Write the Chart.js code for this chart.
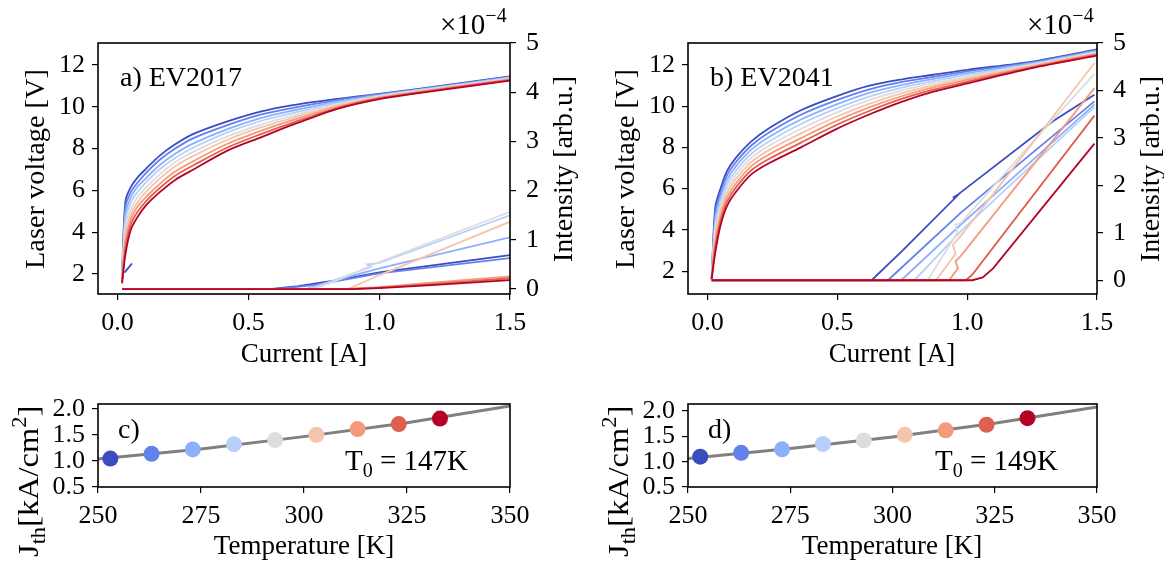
<!DOCTYPE html>
<html>
<head>
<meta charset="utf-8">
<script src="https://cdn.jsdelivr.net/npm/chart.js@4.4.1/dist/chart.umd.min.js"></script>
<style>
body { margin: 0; background: #fff; width: 1164px; height: 561px; position: relative; overflow: hidden; }
canvas { position: absolute; }
</style>
</head>
<body>
<canvas id="chartA" width="590" height="380" style="left:0px;top:0px;width:590px;height:380px"></canvas>
<canvas id="chartB" width="574" height="380" style="left:590px;top:0px;width:574px;height:380px"></canvas>
<canvas id="chartC" width="590" height="201" style="left:0px;top:360px;width:590px;height:201px"></canvas>
<canvas id="chartD" width="574" height="201" style="left:590px;top:360px;width:574px;height:201px"></canvas>
<script>
const temperatures = [253, 263, 273, 283, 293, 303, 313, 323, 333]
const colors = ['#3b4cc0', '#6282ea', '#8db0fe', '#b8d0f9', '#dddddd', '#f5c4ac', '#f49a7b', '#de604d', '#b40426']

const currentTicks = [0, 0.5, 1.0, 1.5]
const voltageTicks = [2, 4, 6, 8, 10, 12]
const intensityTicks = [0, 1, 2, 3, 4, 5]
const tempTicks = [250, 275, 300, 325, 350]
const jthTicks = [0.5, 1.0, 1.5, 2.0]

// EV2017: voltage sweeps, one row per temperature
const currentA = [0.017, 0.03, 0.05, 0.075, 0.11, 0.16, 0.22, 0.29, 0.42, 0.55, 0.67, 0.84, 1.0, 1.15, 1.5]
const voltageA = [
    [2.0, 5.5, 6.15, 6.6, 7.05, 7.65, 8.2, 8.7, 9.3, 9.78, 10.08, 10.38, 10.62, 10.85, 11.45],
    [1.95, 5.2, 5.9, 6.35, 6.85, 7.45, 8.0, 8.5, 9.12, 9.63, 9.95, 10.32, 10.59, 10.83, 11.43],
    [1.9, 4.85, 5.65, 6.15, 6.6, 7.2, 7.75, 8.25, 8.93, 9.47, 9.82, 10.25, 10.56, 10.81, 11.4],
    [1.85, 4.55, 5.4, 5.9, 6.4, 7.0, 7.55, 8.05, 8.77, 9.33, 9.7, 10.18, 10.52, 10.79, 11.38],
    [1.8, 4.2, 5.1, 5.65, 6.15, 6.75, 7.35, 7.85, 8.58, 9.16, 9.58, 10.11, 10.49, 10.76, 11.35],
    [1.75, 3.9, 4.85, 5.4, 5.95, 6.55, 7.15, 7.65, 8.42, 9.02, 9.47, 10.05, 10.46, 10.74, 11.33],
    [1.7, 3.6, 4.6, 5.2, 5.7, 6.3, 6.9, 7.4, 8.23, 8.86, 9.36, 9.99, 10.43, 10.71, 11.3],
    [1.6, 3.25, 4.35, 4.95, 5.5, 6.1, 6.7, 7.2, 8.05, 8.7, 9.24, 9.94, 10.4, 10.68, 11.28],
    [1.55, 2.95, 4.1, 4.7, 5.3, 5.9, 6.5, 7.0, 7.9, 8.55, 9.14, 9.9, 10.37, 10.65, 11.25]
]
const hookCurrentA = [0.055, 0.026]
const hookVoltageA = [2.5, 2.06]

// EV2017: light output (x 1e-4)
const lightCurrentA = [
    [0.017, 0.58, 0.69, 0.84, 1.0, 1.5],
    [0.017, 0.6, 0.75, 0.88, 1.0, 1.5],
    [0.017, 0.72, 0.85, 1.0, 1.5],
    [0.017, 0.73, 0.85, 0.968, 0.955, 1.0, 1.5],
    [0.017, 0.75, 0.85, 1.0, 1.5],
    [0.017, 0.88, 1.0, 1.5],
    [0.017, 0.85, 1.0, 1.2, 1.5],
    [0.017, 0.88, 1.0, 1.2, 1.5],
    [0.017, 0.9, 1.0, 1.2, 1.5]
]
const lightA = [
    [0, 0, 0.06, 0.18, 0.34, 0.69],
    [0, 0, 0.08, 0.2, 0.32, 0.63],
    [0, 0, 0.2, 0.42, 1.05],
    [0, 0, 0.22, 0.45, 0.5, 0.53, 1.5],
    [0, 0, 0.2, 0.55, 1.57],
    [0, 0, 0.28, 1.37],
    [0, 0, 0.04, 0.13, 0.26],
    [0, 0, 0.03, 0.1, 0.22],
    [0, 0, 0.02, 0.08, 0.18]
]

// EV2041: voltage sweeps
const currentB = [0.016, 0.03, 0.05, 0.075, 0.11, 0.17, 0.24, 0.36, 0.49, 0.62, 0.75, 0.87, 1.0, 1.25, 1.5]
const voltageB = [
    [1.6, 5.1, 6.0, 6.85, 7.5, 8.3, 8.95, 9.8, 10.45, 10.98, 11.3, 11.52, 11.76, 12.16, 12.75],
    [1.6, 4.82, 5.78, 6.64, 7.29, 8.1, 8.74, 9.58, 10.25, 10.8, 11.17, 11.42, 11.68, 12.12, 12.71],
    [1.6, 4.55, 5.55, 6.42, 7.09, 7.9, 8.53, 9.35, 10.05, 10.63, 11.03, 11.32, 11.6, 12.08, 12.68],
    [1.6, 4.27, 5.33, 6.21, 6.88, 7.7, 8.31, 9.13, 9.85, 10.45, 10.9, 11.21, 11.51, 12.04, 12.64],
    [1.6, 4.0, 5.1, 6.0, 6.68, 7.5, 8.1, 8.9, 9.65, 10.28, 10.76, 11.11, 11.43, 12.0, 12.6],
    [1.6, 3.72, 4.88, 5.79, 6.47, 7.3, 7.89, 8.68, 9.45, 10.1, 10.63, 11.01, 11.35, 11.96, 12.56],
    [1.6, 3.45, 4.65, 5.57, 6.26, 7.1, 7.68, 8.45, 9.25, 9.93, 10.49, 10.91, 11.27, 11.92, 12.53],
    [1.6, 3.17, 4.43, 5.36, 6.06, 6.9, 7.46, 8.23, 9.05, 9.75, 10.36, 10.8, 11.18, 11.88, 12.49],
    [1.6, 2.9, 4.2, 5.15, 5.85, 6.7, 7.25, 8.0, 8.85, 9.58, 10.22, 10.7, 11.1, 11.84, 12.45]
]

// EV2041: light output (x 1e-4)
const lightCurrentB = [
    [0.016, 0.632, 0.75, 0.962, 0.945, 0.968, 1.33, 1.49],
    [0.016, 0.695, 0.975, 1.25, 1.49],
    [0.016, 0.746, 0.975, 1.25, 1.49],
    [0.016, 0.797, 0.975, 1.25, 1.49],
    [0.016, 0.848, 0.962, 0.955, 0.975, 1.25, 1.49],
    [0.016, 0.88, 0.955, 0.945, 0.975, 1.49],
    [0.016, 0.93, 0.965, 0.955, 0.975, 1.49],
    [0.016, 0.995, 1.02, 1.49],
    [0.016, 1.02, 1.06, 1.1, 1.49]
]
const lightB = [
    [0, 0, 0.62, 1.78, 1.74, 1.82, 3.35, 3.91],
    [0, 0, 1.42, 2.68, 3.77],
    [0, 0, 1.17, 2.52, 3.7],
    [0, 0, 1.03, 2.43, 3.65],
    [0, 0, 1.0, 1.17, 1.2, 2.9, 4.35],
    [0, 0, 0.55, 0.75, 0.93, 4.58],
    [0, 0, 0.25, 0.4, 0.51, 4.05],
    [0, 0, 0.12, 3.47],
    [0, 0, 0.06, 0.25, 2.88]
]

// threshold current density vs temperature, with exponential fit
const jthC = [1.045, 1.135, 1.22, 1.32, 1.4, 1.5, 1.61, 1.705, 1.81]
const fitTempC = [250, 275, 300, 325, 350]
const fitC = [1.035, 1.23, 1.465, 1.73, 2.05]
const jthD = [1.1, 1.175, 1.245, 1.35, 1.42, 1.53, 1.62, 1.73, 1.86]
const fitTempD = [250, 275, 300, 325, 350]
const fitD = [1.065, 1.26, 1.49, 1.76, 2.08]

const font_family = '"Liberation Serif", "Times New Roman", serif'
const tick_font = {family: font_family, size: 26}

function points(xs, ys) {
    return xs.map((x, i) => ({x: x, y: ys[i]}))
}

function draw_rich(ctx, item) {
    const size = item.size || 27
    const small = Math.round(size * 0.7)
    ctx.save()
    ctx.translate(item.x, item.y)
    if (item.rotate) ctx.rotate(item.rotate)
    if (item.stretch) ctx.scale(item.stretch, 1)
    ctx.fillStyle = '#000'
    ctx.textBaseline = 'alphabetic'
    let width = 0
    item.parts.forEach(p => {
        ctx.font = `${p[1] ? small : size}px ${font_family}`
        width += ctx.measureText(p[0]).width
    })
    let cx = item.align == 'center' ? -width / 2 : 0
    item.parts.forEach(p => {
        ctx.font = `${p[1] ? small : size}px ${font_family}`
        let dy = 0
        if (p[1] == 'sub') dy = size * 0.25
        if (p[1] == 'sup') dy = -size * 0.42
        ctx.fillText(p[0], cx, dy)
        cx += ctx.measureText(p[0]).width
    })
    ctx.restore()
}

// frame around the plot area plus all the free text
function decor(texts, left, top) {
    return {
        id: 'decor',
        afterDraw(chart) {
            const ctx = chart.ctx
            const a = chart.chartArea
            ctx.save()
            ctx.strokeStyle = '#000'
            ctx.lineWidth = 1.6
            ctx.strokeRect(a.left, a.top, a.right - a.left, a.bottom - a.top)
            ctx.restore()
            texts.forEach(t => draw_rich(ctx, Object.assign({}, t, {x: t.x - left, y: t.y - top})))
        }
    }
}

function axis(min, max, ticks, fmt, fit) {
    return {
        type: 'linear',
        min: min,
        max: max,
        afterBuildTicks: s => { s.ticks = ticks.map(v => ({value: v})) },
        afterFit: fit,
        ticks: {callback: fmt, font: tick_font, color: '#000', padding: 7, maxRotation: 0, autoSkip: false},
        grid: {drawOnChartArea: false, tickLength: 6, color: '#000', lineWidth: 1.2},
        border: {display: false}
    }
}

function top_chart(param) {
    let datasets = []
    param.voltage.forEach((v, i) => {
        datasets.push({
            data: points(param.current, v),
            yAxisID: 'y',
            borderColor: colors[i],
            borderWidth: 1.8,
            tension: 0.3,
            order: 40 - i
        })
    })
    if (param.hookCurrent) {
        datasets.push({
            data: points(param.hookCurrent, param.hookVoltage),
            yAxisID: 'y', borderColor: colors[0], borderWidth: 1.8, order: 41
        })
    }
    param.lightCurrent.forEach((c, i) => {
        datasets.push({
            data: points(c, param.light[i]),
            yAxisID: 'y2',
            borderColor: colors[i],
            borderWidth: 1.8,
            order: 20 - i
        })
    })

    let x = axis(-0.075, 1.5, currentTicks, v => v.toFixed(1), s => { s.height = 86 })
    x.ticks.padding = 8
    let y = axis(param.vmin, param.vmax, voltageTicks, v => v, s => { s.width = 98 })
    y.position = 'left'
    let y2 = axis(param.imin, 5, intensityTicks, v => v, s => { s.width = param.rightWidth })
    y2.position = 'right'
    y2.ticks.padding = 10

    return new Chart(document.getElementById(param.id), {
        type: 'line',
        data: {datasets: datasets},
        options: {
            responsive: false,
            animation: false,
            layout: {padding: {top: 43}},
            elements: {point: {radius: 0}},
            plugins: {legend: {display: false}, tooltip: {enabled: false}},
            scales: {x: x, y: y, y2: y2}
        },
        plugins: [decor(param.texts, param.left, 0)]
    })
}

function bottom_chart(param) {
    let x = axis(250, 350, tempTicks, v => v, s => { s.height = 74 })
    x.ticks.padding = 8
    let y = axis(0.5, param.jmax, jthTicks, v => v.toFixed(1), s => { s.width = 98 })
    return new Chart(document.getElementById(param.id), {
        type: 'line',
        data: {datasets: [
            {data: points(temperatures, param.jth), showLine: false, pointRadius: 8, pointHoverRadius: 8,
             pointBackgroundColor: colors, pointBorderWidth: 0, order: 1},
            {data: points(param.fitTemp, param.fit), borderColor: '#808080', borderWidth: 3, order: 2}
        ]},
        options: {
            responsive: false,
            animation: false,
            layout: {padding: {top: 44, right: param.right}},
            elements: {point: {radius: 0}},
            plugins: {legend: {display: false}, tooltip: {enabled: false}},
            scales: {x: x, y: y}
        },
        plugins: [decor(param.texts, param.left, 360)]
    })
}

const up = -Math.PI / 2

function top_texts(cx, left, right, label) {
    return [
        {parts: [[label, '']], x: left + 22, y: 86, size: 28},
        {parts: [['Laser voltage [V]', '']], x: left - 54, y: 169, align: 'center', rotate: up, stretch: 1.05},
        {parts: [['Intensity [arb.u.]', '']], x: right + 62, y: 169, align: 'center', rotate: up, stretch: 1.03},
        {parts: [['Current [A]', '']], x: cx, y: 362, align: 'center'},
        {parts: [['\u00d710', ''], ['\u22124', 'sup']], x: right - 70, y: 34, size: 29}
    ]
}

function bottom_texts(cx, left, label, t0) {
    return [
        {parts: [[label, '']], x: left + 20, y: 438, size: 28},
        {parts: [['T', ''], ['0', 'sub'], [' = ' + t0 + 'K', '']], x: left + 247, y: 470, size: 29},
        {parts: [['Temperature [K]', '']], x: cx, y: 554, align: 'center'},
        {parts: [['J', ''], ['th', 'sub'], ['[kA/cm', ''], ['2', 'sup'], [']', '']], x: left - 60, y: 557, rotate: up, size: 29, stretch: 1.12}
    ]
}

top_chart({
    id: 'chartA', left: 0, rightWidth: 80,
    current: currentA, voltage: voltageA, hookCurrent: hookCurrentA, hookVoltage: hookVoltageA,
    lightCurrent: lightCurrentA, light: lightA,
    vmin: 1.04, vmax: 13.05, imin: -0.1,
    texts: top_texts(304, 98, 510, 'a) EV2017')
})
top_chart({
    id: 'chartB', left: 590, rightWidth: 67,
    current: currentB, voltage: voltageB,
    lightCurrent: lightCurrentB, light: lightB,
    vmin: 0.89, vmax: 13.06, imin: -0.29,
    texts: top_texts(892, 688, 1097, 'b) EV2041')
})
bottom_chart({
    id: 'chartC', left: 0, right: 80, jth: jthC, fitTemp: fitTempC, fit: fitC, jmax: 2.09,
    texts: bottom_texts(304, 98, 'c)', 147)
})
bottom_chart({
    id: 'chartD', left: 590, right: 67, jth: jthD, fitTemp: fitTempD, fit: fitD, jmax: 2.14,
    texts: bottom_texts(892, 688, 'd)', 149)
})
</script>
</body>
</html>
